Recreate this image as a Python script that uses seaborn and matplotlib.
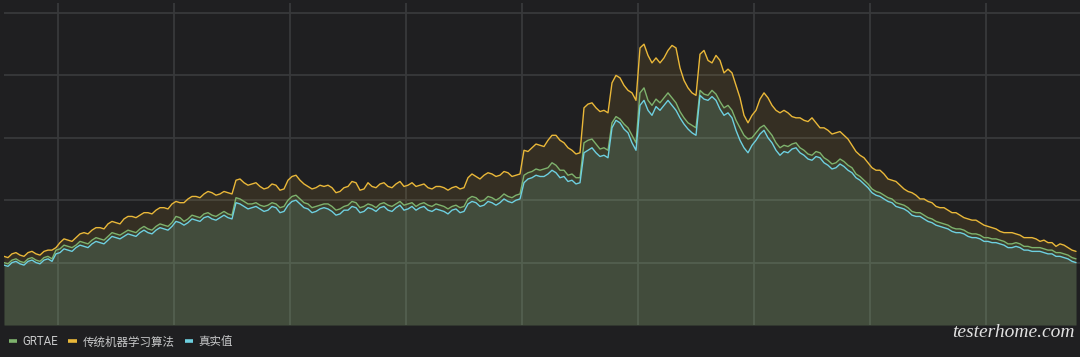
import matplotlib
matplotlib.use("Agg")
import matplotlib.pyplot as plt
from matplotlib.lines import Line2D
import numpy as np
import pandas as pd
import seaborn as sns

# ---------------------------------------------------------------------------
# Data: a coarse reading per step plus the reading
# half-way between two steps (the series are quite noisy)
# ---------------------------------------------------------------------------
series_names = ["GRTAE", "传统机器学习算法", "真实值"]
series_colors = ["#7eb26d", "#eab839", "#6ed0e0"]

actual_on = [
    48, 50, 49, 51, 50, 52, 51,
    58, 60, 62, 63, 65, 66, 68, 70, 71, 72, 74, 74, 76, 77,
    79, 82, 82, 84, 86, 85, 86, 86,
    98, 95, 94, 93, 92, 94, 91, 99, 97, 93, 91, 94, 91, 89, 92, 94, 91, 93,
    94, 92, 94, 92, 95, 94, 92, 93, 91, 92, 90,
    97, 98, 96, 98, 98, 99, 100,
    114, 118, 119, 121, 122, 119, 116, 114,
    140, 138, 136, 158, 162, 154, 140,
    180, 168, 172, 180, 172, 161, 154, 184, 180, 180, 168, 166,
    148, 138, 148, 156, 146, 136, 138, 142, 136, 132, 134, 128, 126, 127, 122,
    116, 110, 104, 101, 98, 94, 91, 87, 85, 82, 79, 77, 74, 73, 70, 69, 67,
    66, 64, 62, 62, 60, 59, 58, 57, 55, 53, 50,
]
actual_mid = [
    47, 51, 48, 52, 49, 53, 57, 61, 59, 64, 62, 67, 65, 71, 69, 73, 71, 76,
    73, 78, 76, 83, 80, 85, 83, 87, 84, 88, 85, 97, 93, 95, 91, 95, 90, 96,
    100, 94, 90, 93, 93, 88, 92, 95, 90, 94, 91, 95, 91, 96, 93, 92, 95, 91,
    92, 89, 93, 91, 99, 95, 99, 96, 101, 98, 101, 117, 120, 119, 124, 118,
    115, 113, 138, 142, 135, 134, 164, 157, 146, 176, 172, 175, 176, 176,
    166, 157, 152, 181, 183, 173, 170, 156, 142, 144, 153, 150, 140, 139,
    141, 138, 133, 135, 130, 125, 129, 124, 118, 113, 106, 103, 99, 95, 93,
    88, 87, 83, 80, 78, 75, 74, 71, 70, 67, 66, 65, 62, 63, 60, 59, 59, 57,
    55, 54, 51,
]

grtae_on = [
    50, 52, 51, 53, 52, 54, 53,
    61, 63, 64, 66, 68, 69, 71, 73, 74, 75, 77, 77, 79, 80,
    82, 86, 85, 87, 89, 88, 89, 89,
    102, 99, 97, 96, 96, 97, 95, 103, 101, 97, 95, 97, 95, 93, 96, 98, 95, 96,
    97, 96, 97, 96, 98, 97, 96, 97, 95, 95, 94,
    101, 102, 100, 102, 102, 103, 104,
    120, 123, 124, 126, 128, 124, 121, 118,
    148, 145, 142, 162, 165, 158, 146,
    190, 176, 178, 186, 178, 166, 160, 188, 184, 185, 174, 172,
    158, 149, 154, 160, 152, 142, 143, 146, 140, 136, 138, 132, 130, 131, 126,
    119, 113, 107, 104, 101, 97, 94, 90, 88, 85, 82, 80, 77, 76, 73, 72, 70,
    69, 67, 65, 65, 63, 62, 61, 60, 58, 56, 53,
]
grtae_mid = [
    49, 53, 50, 54, 51, 55, 60, 64, 62, 67, 65, 70, 68, 74, 72, 76, 74, 79,
    76, 81, 79, 87, 83, 88, 86, 90, 87, 91, 88, 101, 97, 98, 95, 98, 94, 100,
    104, 98, 94, 96, 97, 92, 95, 99, 94, 97, 94, 98, 95, 99, 97, 95, 98, 95,
    96, 93, 96, 95, 103, 99, 103, 100, 105, 102, 105, 122, 125, 125, 130,
    124, 120, 118, 146, 149, 141, 140, 167, 161, 152, 186, 180, 181, 182,
    182, 171, 162, 158, 185, 188, 179, 176, 164, 152, 150, 158, 156, 146,
    144, 145, 142, 137, 139, 134, 129, 133, 128, 121, 116, 109, 106, 102,
    98, 96, 91, 90, 86, 83, 81, 78, 77, 74, 73, 70, 69, 68, 65, 66, 63, 62,
    62, 60, 58, 57, 54,
]

traditional_on = [
    55, 57, 56, 58, 57, 59, 60,
    66, 68, 70, 74, 76, 78, 81, 82, 85, 87, 88, 90, 92, 94,
    97, 98, 101, 103, 105, 106, 105, 106,
    116, 114, 113, 111, 110, 112, 109, 119, 116, 111, 110, 111, 110, 107, 111,
    114, 109, 111, 113, 111, 113, 111, 114, 112, 110, 111, 110, 110, 109,
    118, 119, 120, 121, 120, 122, 120,
    140, 142, 144, 148, 152, 146, 140, 138,
    177, 174, 172, 194, 198, 188, 180,
    225, 210, 210, 220, 222, 196, 186, 217, 212, 216, 202, 202,
    182, 162, 172, 186, 176, 170, 170, 166, 164, 166, 158, 156, 154, 152, 144,
    136, 130, 124, 121, 116, 112, 107, 104, 101, 98, 94, 92, 90, 86, 84, 82,
    79, 77, 74, 74, 72, 70, 69, 68, 66, 65, 62, 59,
]
traditional_mid = [
    54, 58, 55, 59, 56, 60, 62, 69, 67, 73, 73, 78, 77, 83, 81, 87, 86, 90,
    89, 94, 93, 99, 98, 103, 102, 107, 104, 107, 105, 117, 112, 114, 109,
    113, 108, 116, 120, 113, 109, 112, 112, 106, 110, 115, 108, 114, 110,
    114, 110, 115, 112, 111, 113, 109, 111, 108, 111, 110, 121, 117, 122,
    119, 123, 119, 121, 139, 145, 143, 152, 148, 142, 137, 174, 178, 171,
    170, 200, 192, 186, 222, 216, 214, 214, 224, 206, 190, 184, 220, 210,
    212, 205, 192, 168, 168, 181, 182, 172, 172, 167, 166, 163, 162, 158,
    153, 155, 149, 139, 134, 126, 124, 117, 115, 109, 106, 101, 99, 95, 94,
    90, 88, 85, 84, 80, 78, 75, 74, 73, 70, 70, 67, 66, 63, 64, 60,
]


def interleave(on, mid):
    assert len(mid) == len(on) - 1
    out = np.empty(len(on) + len(mid))
    out[0::2] = on
    out[1::2] = mid
    return out


values = {
    "GRTAE": interleave(grtae_on, grtae_mid),
    "传统机器学习算法": interleave(traditional_on, traditional_mid),
    "真实值": interleave(actual_on, actual_mid),
}
n = len(values["真实值"])
steps = np.arange(n)

df = pd.concat(
    [pd.DataFrame({"step": steps, "value": v, "series": k})
     for k, v in values.items()],
    ignore_index=True,
)

# ---------------------------------------------------------------------------
# Styling (dark dashboard panel)
# ---------------------------------------------------------------------------
bg = "#1f1f21"
grid_col = "#38393b"
text_col = "#c8c9ca"

sns.set_theme(style="dark", rc={
    "figure.facecolor": bg,
    "axes.facecolor": bg,
    "axes.edgecolor": bg,
    "grid.color": grid_col,
})
plt.rcParams["font.family"] = ["Roboto", "Noto Sans CJK SC", "DejaVu Sans"]

fig = plt.figure(figsize=(10.8, 3.57), dpi=100)
ax = fig.add_axes([4 / 1080, 32 / 357, 1 - 4 / 1080, 322 / 357])

palette = dict(zip(series_names, series_colors))

# area fills: orange first, then cyan, then green
for name in ["传统机器学习算法", "真实值", "GRTAE"]:
    sub = df[df["series"] == name]
    ax.fill_between(sub["step"], sub["value"], 0, color=palette[name],
                    alpha=0.11, linewidth=0, zorder=1)

sns.lineplot(data=df, x="step", y="value", hue="series",
             hue_order=["传统机器学习算法", "GRTAE", "真实值"],
             palette=palette, linewidth=1.0, legend=False, ax=ax, zorder=3)

ax.set_xlim(0, n)
ax.set_ylim(0, 258)
ax.set_xticks(np.arange(13.5, n, 29))
ax.set_yticks([50, 100, 150, 200, 250])
ax.grid(True, color=grid_col, linewidth=1.3)
ax.set_axisbelow(True)
ax.tick_params(left=False, bottom=False, labelleft=False, labelbottom=False)
ax.set_xlabel("")
ax.set_ylabel("")
for s in ax.spines.values():
    s.set_visible(False)

handles = [Line2D([0], [0], color=c, linewidth=2.6, solid_capstyle="butt")
           for c in series_colors]
leg = fig.legend(handles, series_names, loc="lower left",
                 bbox_to_anchor=(0.0, 0.0), ncol=3, frameon=False,
                 handlelength=0.75, handletextpad=0.45, columnspacing=0.9,
                 fontsize=8.3, borderaxespad=0.35)
for t in leg.get_texts():
    t.set_color(text_col)

fig.text(0.995, 0.045, "testerhome.com", ha="right", va="bottom",
         color="#e0e0e0", fontsize=14, fontstyle="italic",
         family=["Liberation Serif"])

fig.savefig("out.png", dpi=100, facecolor=bg)
